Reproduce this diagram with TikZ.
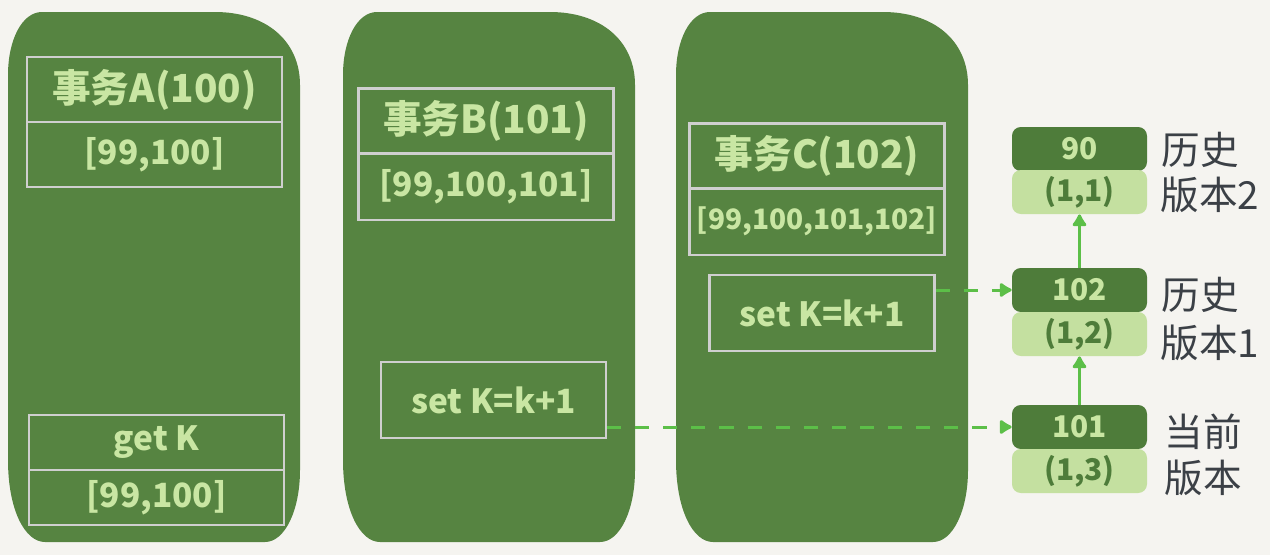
\documentclass[tikz,border=0pt]{standalone}
\usepackage{fontspec}
\newfontfamily\cjk{Noto Sans CJK SC}
\usetikzlibrary{arrows.meta}
\pgfdeclarelayer{bglayer}
\pgfdeclarelayer{edgelayer}
\pgfdeclarelayer{nodelayer}
\pgfsetlayers{bglayer,edgelayer,nodelayer,main}
\definecolor{paper}{HTML}{F5F4F0}
\definecolor{col}{HTML}{568441}
\definecolor{dark}{HTML}{4E7C3A}
\definecolor{pale}{HTML}{C4E0A0}
\definecolor{ink}{HTML}{C9E6A3}
\definecolor{frame}{HTML}{CFCFCF}
\definecolor{link}{HTML}{5CBF48}
\definecolor{grey}{HTML}{3B4046}
\tikzset{x=0.02cm,y=-0.02cm}
\tikzstyle{cell}=[draw=frame,line width=1.2pt,inner sep=0pt,text=ink,minimum width=5.1cm,minimum height=1.3cm]
\tikzstyle{head}=[cell,font=\cjk\bfseries\fontsize{22}{26}\selectfont]
\tikzstyle{list}=[cell,font=\cjk\bfseries\fontsize{19}{22}\selectfont]
\tikzstyle{setbox}=[cell,minimum width=4.5cm,minimum height=1.52cm,font=\cjk\bfseries\fontsize{19}{22}\selectfont]
\tikzstyle{dark}=[fill=dark,rounded corners=5pt,inner sep=0pt,minimum width=2.7cm,minimum height=0.88cm,text=ink,font=\cjk\bfseries\fontsize{17}{20}\selectfont]
\tikzstyle{pale}=[dark,fill=pale,text=dark]
\tikzstyle{label}=[inner sep=0pt,text=grey,font=\cjk\fontsize{22}{26}\selectfont]
\tikzstyle{dashlink}=[draw=link,line width=1.7pt,dash pattern=on 8pt off 8pt,-{Latex[round,length=8pt,width=10pt]}]
\tikzstyle{uplink}=[draw=link,line width=1.7pt,-{Latex[round,length=8pt,width=10pt]}]

\begin{document}
\begin{tikzpicture}
	\useasboundingbox (0,0) rectangle (1270,555);
	\begin{pgfonlayer}{bglayer}
		\fill[paper] (0,0) rectangle (1270,555);
		\foreach \dx in {0,335,668}
			\fill[col,shift={(\dx,0)}] (8,75) .. controls (8,40) and (22,12) .. (42,12) -- (215,12) .. controls (265,12) and (300,40) .. (300,85) -- (300,470) .. controls (300,510) and (285,542) .. (265,542) -- (45,542) .. controls (25,542) and (8,510) .. (8,460) -- cycle;
	\end{pgfonlayer}
	\begin{pgfonlayer}{nodelayer}
		\node [style=head] (0) at (154.5, 89.5) {事务A(100)};
		\node [style=list] (1) at (154.5, 154.5) {[99,100]};
		\node [style=list, minimum height=1.1cm] (2) at (156.5, 442.5) {get K};
		\node [style=list, minimum height=1.1cm] (3) at (156.5, 497.5) {[99,100]};
		\node [style=head] (4) at (486, 121) {事务B(101)};
		\node [style=list, minimum height=1.34cm] (5) at (486, 186.5) {[99,100,101]};
		\node [style=setbox] (6) at (493.5, 400) {set K=k+1};
		\node [style=head] (7) at (817, 156) {事务C(102)};
		\node [style=list, minimum height=1.34cm, font=\cjk\bfseries\fontsize{16}{20}\selectfont] (8) at (817, 221.5) {[99,100,101,102]};
		\node [style=setbox] (9) at (822, 313) {set K=k+1};
		\node [style=dark] (10) at (1079.5, 149) {90};
		\node [style=pale] (11) at (1079.5, 192) {(1,1)};
		\node [style=dark] (12) at (1079.5, 290) {102};
		\node [style=pale] (13) at (1079.5, 334) {(1,2)};
		\node [style=dark] (14) at (1079.5, 427) {101};
		\node [style=pale] (15) at (1079.5, 471) {(1,3)};
		\node [style=label] (16) at (1200, 150) {历史};
		\node [style=label] (17) at (1210, 195) {版本2};
		\node [style=label] (18) at (1200, 295) {历史};
		\node [style=label] (19) at (1210, 343) {版本1};
		\node [style=label] (20) at (1203, 432) {当前};
		\node [style=label] (21) at (1203, 478) {版本};
	\end{pgfonlayer}
	\begin{pgfonlayer}{edgelayer}
		\draw[style=dashlink] (9.east |- 12.west) to (12.west);
		\draw[style=dashlink] (6.east |- 14.west) to (14.west);
		\draw[style=uplink] (12.north) to (11.south);
		\draw[style=uplink] (14.north) to (13.south);
	\end{pgfonlayer}
\end{tikzpicture}
\end{document}
